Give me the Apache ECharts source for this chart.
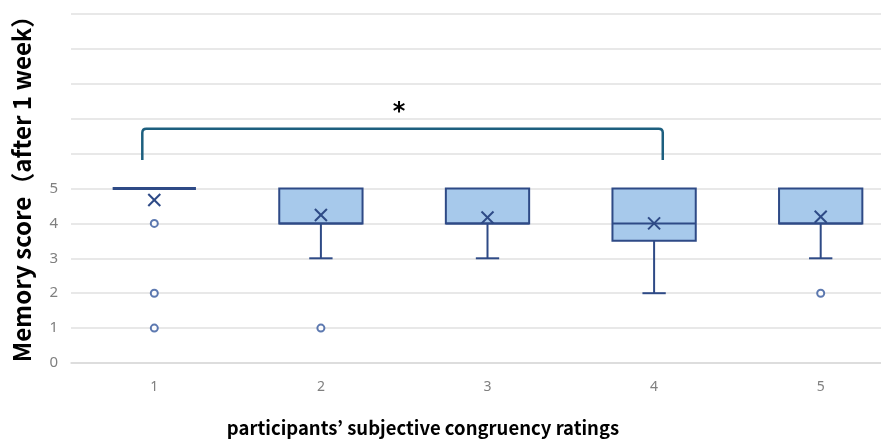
<!DOCTYPE html>
<html>
<head>
<meta charset="utf-8">
<script src="https://cdn.jsdelivr.net/npm/echarts@6/dist/echarts.min.js"></script>
<style>html,body{margin:0;padding:0;background:#fff;}#c{width:881px;height:441px;}</style>
</head>
<body>
<div id="c"></div>
<script>
const categories = ['1', '2', '3', '4', '5'];
const whiskerLow = [5, 3, 3, 2, 3];
const q1 = [5, 4, 4, 3.5, 4];
const medians = [5, 4, 4, 4, 4];
const q3 = [5, 5, 5, 5, 5];
const whiskerHigh = [5, 5, 5, 5, 5];
const means = [4.67, 4.24, 4.17, 4.0, 4.19];
const outliers = [[0, 4], [0, 2], [0, 1], [1, 1], [4, 2]];
const yLabelMax = 5;
const bracketFrom = 0, bracketTo = 3, bracketTop = 6.71, bracketBottom = 5.82;
const sigLabel = '*';
const yTitle = 'Memory score（after 1 week）';
const xTitle = 'participants’ subjective congruency ratings';

const boxColor = '#2e4a86';
const boxFill = '#a7c9eb';

const boxData = categories.map((c, i) => [i, whiskerLow[i], q1[i], medians[i], q3[i], whiskerHigh[i], means[i]]);

const chart = echarts.init(document.getElementById('c'), null, {renderer: 'canvas'});
chart.setOption({
  animation: false,
  backgroundColor: '#fff',
  grid: {left: 71, right: -23, top: 14, bottom: 78, containLabel: false, outerBoundsMode: 'none'},
  xAxis: {
    type: 'category', data: categories, boundaryGap: true,
    axisLine: {lineStyle: {color: '#d9d9d9', width: 1.5}},
    axisTick: {show: false},
    axisLabel: {color: '#7f7f7f', fontSize: 14, margin: 17, fontFamily: 'Noto Sans'}
  },
  yAxis: {
    type: 'value', min: 0, max: 10, interval: 1,
    axisLine: {show: false}, axisTick: {show: false},
    splitLine: {lineStyle: {color: '#e0e0e0', width: 1.5}},
    axisLabel: {color: '#7f7f7f', fontSize: 15, margin: 13, fontFamily: 'Noto Sans',
      formatter: v => v <= yLabelMax ? String(v) : ''}
  },
  graphic: [
    {type: 'text', x: 22, y: 183, rotation: Math.PI / 2, style: {
      text: yTitle, fill: '#000', font: 'bold 24px "Noto Sans CJK JP", "Noto Sans"', align: 'center', verticalAlign: 'middle'}},
    {type: 'text', x: 423, y: 428, style: {
      text: xTitle, fill: '#000', font: 'bold 18.5px "Noto Sans CJK JP", "Noto Sans"', align: 'center', verticalAlign: 'middle'}}
  ],
  series: [
    {
      type: 'custom',
      data: boxData,
      encode: {x: 0, y: [1, 2, 3, 4, 5]},
      renderItem: function (params, api) {
        const i = api.value(0);
        const bw = api.size([1, 0])[0];
        const cx = api.coord([i, 0])[0];
        const half = bw * 0.25;
        const cap = bw * 0.07;
        const yLo = api.coord([i, api.value(1)])[1];
        const yQ1 = api.coord([i, api.value(2)])[1];
        const yMed = api.coord([i, api.value(3)])[1];
        const yQ3 = api.coord([i, api.value(4)])[1];
        const yHi = api.coord([i, api.value(5)])[1];
        const yMean = api.coord([i, api.value(6)])[1];
        const ls = {stroke: boxColor, lineWidth: 2, fill: null};
        const children = [];
        if (yLo !== yQ1) {
          children.push({type: 'line', shape: {x1: cx, y1: yQ1, x2: cx, y2: yLo}, style: ls});
          children.push({type: 'line', shape: {x1: cx - cap, y1: yLo, x2: cx + cap, y2: yLo}, style: ls});
        }
        if (yHi !== yQ3) {
          children.push({type: 'line', shape: {x1: cx, y1: yQ3, x2: cx, y2: yHi}, style: ls});
          children.push({type: 'line', shape: {x1: cx - cap, y1: yHi, x2: cx + cap, y2: yHi}, style: ls});
        }
        if (Math.abs(yQ1 - yQ3) > 0.5) {
          children.push({type: 'rect', shape: {x: cx - half, y: yQ3, width: half * 2, height: yQ1 - yQ3},
            style: {fill: boxFill, stroke: boxColor, lineWidth: 2}});
        }
        children.push({type: 'line', shape: {x1: cx - half, y1: yMed, x2: cx + half, y2: yMed},
          style: {stroke: boxColor, lineWidth: Math.abs(yQ1 - yQ3) > 0.5 ? 2 : 3}});
        const m = 6;
        children.push({type: 'line', shape: {x1: cx - m, y1: yMean - m, x2: cx + m, y2: yMean + m}, style: ls});
        children.push({type: 'line', shape: {x1: cx - m, y1: yMean + m, x2: cx + m, y2: yMean - m}, style: ls});
        return {type: 'group', children: children};
      },
      z: 3
    },
    {
      type: 'scatter',
      data: outliers,
      symbol: 'circle', symbolSize: 7,
      itemStyle: {color: '#fff', borderColor: '#34589c', borderWidth: 2},
      z: 4
    },
    {
      type: 'custom',
      data: [[bracketFrom, bracketTo, bracketTop, bracketBottom]],
      renderItem: function (params, api) {
        const bw = api.size([1, 0])[0];
        const x1 = api.coord([api.value(0), 0])[0] - bw * 0.072;
        const x2 = api.coord([api.value(1), 0])[0] + bw * 0.052;
        const yt = api.coord([0, api.value(2)])[1];
        const yb = api.coord([0, api.value(3)])[1];
        const r = 4;
        const path = `M${x1},${yb} L${x1},${yt + r} Q${x1},${yt} ${x1 + r},${yt} L${x2 - r},${yt} Q${x2},${yt} ${x2},${yt + r} L${x2},${yb}`;
        return {type: 'group', children: [
          {type: 'path', shape: {pathData: path}, style: {stroke: '#1d5f7f', lineWidth: 2.5, fill: null}},
          {type: 'text', x: (x1 + x2) / 2 - 3.5, y: yt - 16, style: {text: sigLabel, fill: '#000',
            font: 'bold 24px "DejaVu Sans"', align: 'center', verticalAlign: 'middle'}}
        ]};
      },
      z: 5
    }
  ]
});
</script>
</body>
</html>
